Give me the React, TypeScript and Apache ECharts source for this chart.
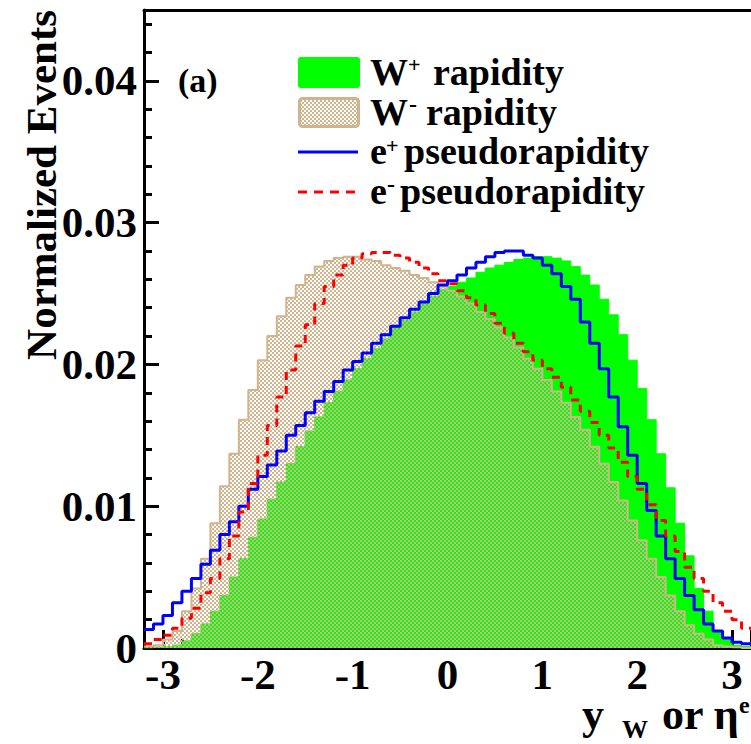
import React, { useEffect, useRef } from 'react';
import * as echarts from 'echarts';

// Histogram binning: 64 bins of width 0.1 from -3.2 to 3.2
const BIN_LOW = -3.2;
const BIN_WIDTH = 0.1;

// W+ rapidity (normalized events per bin)
const wPlusRapidity = [
  0, 0.00005, 0.0001, 0.0002, 0.0005, 0.0010, 0.0017, 0.0026, 0.0037, 0.0050,
  0.0063, 0.0078, 0.0091, 0.0105, 0.0117, 0.0130, 0.0142, 0.0153, 0.0163, 0.0173,
  0.0181, 0.0189, 0.0197, 0.0204, 0.0211, 0.0218, 0.0226, 0.0231, 0.0237, 0.0243,
  0.0248, 0.0253, 0.0255, 0.0258, 0.0261, 0.0265, 0.0268, 0.0270, 0.0272, 0.0274,
  0.0275, 0.0276, 0.0276, 0.0275, 0.0273, 0.0269, 0.0263, 0.0256, 0.0246, 0.0235,
  0.0221, 0.0203, 0.0183, 0.0161, 0.0137, 0.0113, 0.0088, 0.0065, 0.0042, 0.0026,
  0.0012, 0.0006, 0.0002, 0.0001,
];

// W- rapidity
const wMinusRapidity = [
  0.0001, 0.0002, 0.0006, 0.0012, 0.0026, 0.0042, 0.0063, 0.0088, 0.0114, 0.0137,
  0.0161, 0.0182, 0.0203, 0.0220, 0.0234, 0.0247, 0.0256, 0.0263, 0.0269, 0.0273,
  0.0275, 0.0276, 0.0276, 0.0274, 0.0273, 0.0270, 0.0268, 0.0266, 0.0263, 0.0261,
  0.0258, 0.0255, 0.0252, 0.0248, 0.0243, 0.0237, 0.0232, 0.0226, 0.0219, 0.0212,
  0.0204, 0.0197, 0.0189, 0.0181, 0.0173, 0.0163, 0.0154, 0.0142, 0.0130, 0.0117,
  0.0104, 0.0090, 0.0076, 0.0063, 0.0050, 0.0037, 0.0026, 0.0016, 0.0010, 0.0006,
  0.0002, 0.0001, 0.00005, 0,
];

// e+ pseudorapidity
const ePlusPseudorapidity = [
  0.0013, 0.0017, 0.0023, 0.0032, 0.0040, 0.0049, 0.0059, 0.0069, 0.0080, 0.0089,
  0.0100, 0.0112, 0.0121, 0.0129, 0.0139, 0.0150, 0.0157, 0.0166, 0.0174, 0.0181,
  0.0188, 0.0196, 0.0202, 0.0208, 0.0215, 0.0221, 0.0227, 0.0233, 0.0239, 0.0244,
  0.0250, 0.0256, 0.0259, 0.0263, 0.0268, 0.0272, 0.0276, 0.0279, 0.0280, 0.0280,
  0.0277, 0.0275, 0.0270, 0.0264, 0.0255, 0.0246, 0.0230, 0.0215, 0.0197, 0.0177,
  0.0156, 0.0136, 0.0116, 0.0097, 0.0079, 0.0063, 0.0049, 0.0037, 0.0027, 0.0017,
  0.0012, 0.0007, 0.0004, 0.0003,
];

// e- pseudorapidity
const eMinusPseudorapidity = [
  0.0003, 0.0006, 0.0009, 0.0014, 0.0021, 0.0028, 0.0039, 0.0049, 0.0063, 0.0079,
  0.0096, 0.0116, 0.0136, 0.0157, 0.0177, 0.0196, 0.0213, 0.0228, 0.0243, 0.0255,
  0.0263, 0.0270, 0.0275, 0.0278, 0.0279, 0.0279, 0.0277, 0.0275, 0.0272, 0.0268,
  0.0264, 0.0259, 0.0257, 0.0252, 0.0247, 0.0242, 0.0236, 0.0229, 0.0222, 0.0215,
  0.0209, 0.0203, 0.0197, 0.0191, 0.0184, 0.0175, 0.0167, 0.0159, 0.0150, 0.0141,
  0.0131, 0.0121, 0.0112, 0.0101, 0.0090, 0.0079, 0.0068, 0.0057, 0.0049, 0.0040,
  0.0032, 0.0026, 0.0020, 0.0014,
];

const X_MIN = -3.2;
const X_MAX = 3.2;
const Y_MIN = 0;
const Y_MAX = 0.045;

const FONT = "'Liberation Serif', 'Times New Roman', serif";
const GREEN = '#00ff00';
const TAN = '#d2b48c';
const BLUE = '#0000ff';
const RED = '#ff0000';

function toSteps(values: number[]) {
  const pts: number[][] = values.map((v, i) => [
    Math.round((BIN_LOW + i * BIN_WIDTH) * 100) / 100,
    v,
  ]);
  pts.push([
    Math.round((BIN_LOW + values.length * BIN_WIDTH) * 100) / 100,
    values[values.length - 1],
  ]);
  return pts;
}

function makeChecker() {
  const c = document.createElement('canvas');
  c.width = 4;
  c.height = 4;
  const ctx = c.getContext('2d');
  if (ctx) {
    ctx.fillStyle = TAN;
    ctx.fillRect(0, 0, 2, 2);
    ctx.fillRect(2, 2, 2, 2);
  }
  return { image: c.toDataURL(), repeat: 'repeat', imageWidth: 4, imageHeight: 4 };
}

function txt(text: string, x: number, y: number, size: number, extra: any = {}) {
  const align = extra.align || 'left';
  return {
    type: 'text',
    x,
    y,
    z: 100,
    rotation: extra.rotation || 0,
    silent: true,
    style: {
      text,
      fill: '#000000',
      font: `bold ${size}px ${FONT}`,
      align,
      textAlign: align,
      verticalAlign: 'middle',
      textVerticalAlign: 'middle',
    },
  };
}

export default function App() {
  const ref = useRef<HTMLDivElement>(null);

  useEffect(() => {
    document.body.style.margin = '0';
    if (!ref.current) return;
    const chart = echarts.init(ref.current, null, { renderer: 'svg' });
    const checker = makeChecker();

    const axisFont = { color: '#000', fontFamily: FONT, fontWeight: 'bold', fontSize: 43 };

    const option: any = {
      animation: false,
      backgroundColor: '#ffffff',
      grid: { left: 144, top: 10, width: 609, height: 638, containLabel: false },
      xAxis: [
        {
          type: 'value',
          min: X_MIN,
          max: X_MAX,
          splitNumber: 6,
          position: 'bottom',
          axisLine: { show: true, onZero: false, lineStyle: { color: '#000', width: 3 } },
          axisTick: { show: true, inside: true, length: 18, lineStyle: { color: '#000', width: 3 } },
          minorTick: { show: true, splitNumber: 5, length: 9, lineStyle: { color: '#000', width: 3 } },
          axisLabel: { show: true, margin: 5, showMinLabel: false, showMaxLabel: false, ...axisFont },
          splitLine: { show: false },
          minorSplitLine: { show: false },
        },
        {
          type: 'value',
          min: X_MIN,
          max: X_MAX,
          position: 'top',
          axisLine: { show: true, onZero: false, lineStyle: { color: '#000', width: 3 } },
          axisTick: { show: false },
          minorTick: { show: false },
          axisLabel: { show: false },
          splitLine: { show: false },
        },
      ],
      yAxis: {
        type: 'value',
        min: Y_MIN,
        max: Y_MAX,
        interval: 0.01,
        axisLine: { show: true, onZero: false, lineStyle: { color: '#000', width: 3 } },
        axisTick: { show: true, inside: true, length: 15, lineStyle: { color: '#000', width: 3 } },
        minorTick: { show: true, splitNumber: 5, length: 8, lineStyle: { color: '#000', width: 3 } },
        axisLabel: { show: true, margin: 7, showMaxLabel: false, ...axisFont },
        splitLine: { show: false },
        minorSplitLine: { show: false },
      },
      series: [
        {
          name: 'W+ rapidity',
          type: 'line',
          step: 'end',
          data: toSteps(wPlusRapidity),
          symbol: 'none',
          silent: true,
          lineStyle: { color: GREEN, width: 1 },
          itemStyle: { color: GREEN },
          areaStyle: { color: GREEN, opacity: 1 },
          z: 2,
        },
        {
          name: 'W- rapidity',
          type: 'line',
          step: 'end',
          data: toSteps(wMinusRapidity),
          symbol: 'none',
          silent: true,
          lineStyle: { color: TAN, width: 2 },
          itemStyle: { color: TAN },
          areaStyle: { color: checker, opacity: 1 },
          z: 3,
        },
        {
          name: 'e+ pseudorapidity',
          type: 'line',
          step: 'end',
          data: toSteps(ePlusPseudorapidity),
          symbol: 'none',
          silent: true,
          lineStyle: { color: BLUE, width: 3 },
          itemStyle: { color: BLUE },
          z: 4,
        },
        {
          name: 'e- pseudorapidity',
          type: 'line',
          step: 'end',
          data: toSteps(eMinusPseudorapidity),
          symbol: 'none',
          silent: true,
          lineStyle: { color: RED, width: 3, type: [8, 6] },
          itemStyle: { color: RED },
          z: 5,
        },
      ],
      graphic: [
        // y-axis title
        txt('Normalized Events', 41, 10, 43, { align: 'right', rotation: Math.PI / 2 }),
        // x-axis title
        txt('y', 582, 714, 44),
        txt('W', 622, 729, 26),
        txt('or η', 662, 714, 44),
        txt('e', 739, 705, 24),
        // panel label
        txt('(a)', 178, 80, 34),
        // legend
        {
          type: 'rect', z: 100, silent: true,
          shape: { x: 298, y: 57, width: 62, height: 31, r: 3 },
          style: { fill: GREEN },
        },
        {
          type: 'rect', z: 100, silent: true,
          shape: { x: 299.5, y: 98.5, width: 59, height: 28, r: 3 },
          style: { fill: checker, stroke: TAN, lineWidth: 3 },
        },
        {
          type: 'line', z: 100, silent: true,
          shape: { x1: 298, y1: 152, x2: 358, y2: 152 },
          style: { stroke: BLUE, lineWidth: 3 },
        },
        {
          type: 'line', z: 100, silent: true,
          shape: { x1: 298, y1: 192, x2: 358, y2: 192 },
          style: { stroke: RED, lineWidth: 3, lineDash: [9, 7] },
        },
        txt('W', 370, 72, 38),
        txt('+', 408, 64, 22),
        txt('rapidity', 433, 72, 38),
        txt('W', 370, 112, 38),
        txt('-', 409, 104, 24),
        txt('rapidity', 426, 112, 38),
        txt('e', 370, 151, 38),
        txt('+', 386, 145, 22),
        txt('pseudorapidity', 404, 151, 38),
        txt('e', 370, 191, 38),
        txt('-', 387, 184, 24),
        txt('pseudorapidity', 400, 191, 38),
      ],
    };

    chart.setOption(option);
    return () => {
      chart.dispose();
    };
  }, []);

  return <div ref={ref} style={{ width: 751, height: 744 }} />;
}
